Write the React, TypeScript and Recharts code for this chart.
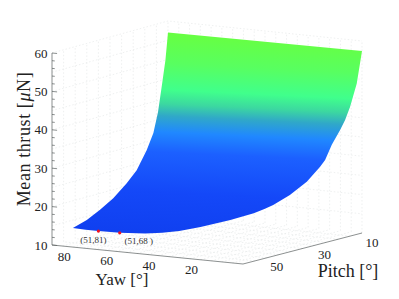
import { Scatter, ScatterChart, XAxis, YAxis } from "recharts"

// surface edges: they follow the outline of the surface
const farEdgeYaw = [0, 45, 90]
const farEdgeThrust = [57.4, 57.2, 57]
const leftEdgePitch = [11.1, 12.6, 14.3, 16.3, 19.2, 23.5, 27.8, 33.6, 39.3, 45]
const leftEdgeThrust = [50, 43.8, 37, 31.9, 27.9, 23.4, 20.7, 17.8, 15.7, 14]
const nearEdgeYaw = [90, 84, 78, 68, 56, 48, 40, 30, 16, 5, 0]
const nearEdgeThrust = [12.9, 12.8, 12.8, 12.9, 13.4, 14, 14.9, 16.5, 19.1, 21.5, 22.9]
const rightEdgePitch = [47.3, 40.3, 33.2, 27.6, 25.5, 22.7, 19.2, 17.1, 15, 12.2]
const rightEdgeThrust = [23.3, 24.8, 27.1, 30.1, 31.5, 35, 38.3, 40.6, 43.7, 49.3]

const markerYaw = [78, 68]
const markerPitch = [51, 51]
const markerThrust = [12.8, 12.9]
const markerLabels = ["(51,81)", "(51,68 )"]
const markerLabelShift = [-5, 19]

const yawTicks = [80, 60, 40, 20]
const pitchTicks = [50, 30, 10]
const thrustTicks = [60, 50, 40, 30, 20, 10]
const thrustMinorTicks = [12, 14, 16, 18, 22, 24, 26, 28, 32, 34, 36, 38, 42, 44, 46, 48, 52, 54, 56, 58]
const yawGrid = [5, 10, 15, 20, 25, 30, 35, 40, 45, 50, 55, 60, 65, 70, 75, 80, 85]
const pitchGrid = [15, 20, 25, 30, 35, 40, 45, 50, 55]
const thrustGrid = [15, 20, 25, 30, 35, 40, 45, 50, 55, 60]

const yawMax = 90
const pitchMin = 10
const pitchMax = 60
const pitchEdge = 51
const thrustMin = 10
const thrustTop = 60

// the box in the picture is nearly orthographic, bilinear between its floor corners is enough
function project(yaw: number, pitch: number, thrust: number) {
	const u = yaw / yawMax
	const v = (pitchMax - pitch) / (pitchMax - pitchMin)
	const x = (1 - u) * (1 - v) * 243 + (1 - u) * v * 362 + u * (1 - v) * 52 + u * v * 168
	const y = (1 - u) * (1 - v) * 264 + (1 - u) * v * 233 + u * (1 - v) * 245 + u * v * 213
	return { x, y: y - 3.84 * (thrust - thrustMin) }
}

const surface = [
	...farEdgeYaw.map((yaw, i) => project(yaw, pitchMin, farEdgeThrust[i])),
	...leftEdgePitch.map((pitch, i) => project(yawMax, pitch, leftEdgeThrust[i])),
	...nearEdgeYaw.map((yaw, i) => project(yaw, pitchEdge, nearEdgeThrust[i])),
	...rightEdgePitch.map((pitch, i) => project(0, pitch, rightEdgeThrust[i])),
]
surface.push(surface[0])

const markers = markerYaw.map((yaw, i) => ({ ...project(yaw, markerPitch[i], markerThrust[i]), label: markerLabels[i], shift: markerLabelShift[i] }))

const gridLines = [
	// left wall and back wall, thrust rows
	...thrustGrid.map((t) => [project(yawMax, pitchMax, t), project(yawMax, pitchMin, t), project(0, pitchMin, t)]),
	// back wall columns
	...yawGrid.map((yaw) => [project(yaw, pitchMin, thrustMin), project(yaw, pitchMin, thrustTop)]),
	[project(0, pitchMin, thrustMin), project(0, pitchMin, thrustTop)],
	// left wall columns
	...pitchGrid.map((p) => [project(yawMax, p, thrustMin), project(yawMax, p, thrustTop)]),
	[project(yawMax, pitchMin, thrustMin), project(yawMax, pitchMin, thrustTop)],
	// floor
	...yawGrid.map((yaw) => [project(yaw, pitchMax, thrustMin), project(yaw, pitchMin, thrustMin)]),
	...pitchGrid.map((p) => [project(0, p, thrustMin), project(yawMax, p, thrustMin)]),
]

const axisLines = [
	[project(yawMax, pitchMax, thrustTop), project(yawMax, pitchMax, thrustMin)],
	[project(yawMax, pitchMax, thrustMin), project(0, pitchMax, thrustMin)],
	[project(0, pitchMax, thrustMin), project(0, pitchMin, thrustMin)],
	...thrustTicks.map((t) => [project(yawMax, pitchMax, t), project(yawMax - 2.4, pitchMax, t)]),
	...thrustMinorTicks.map((t) => [project(yawMax, pitchMax, t), project(yawMax - 1.3, pitchMax, t)]),
]

const tickLabels = [
	...thrustTicks.map((t) => {
		const p = project(yawMax, pitchMax, t)
		return { x: p.x - 11, y: p.y, label: String(t) }
	}),
	...yawTicks.map((yaw) => {
		const p = project(yaw, pitchMax, thrustMin)
		return { x: p.x - 9, y: p.y + 9.5, label: String(yaw) }
	}),
	...pitchTicks.map((pitch) => {
		const p = project(0, pitch, thrustMin)
		return { x: p.x + 10, y: p.y + 9, label: String(pitch) }
	}),
]

const serif = "'Liberation Serif', serif"
const noMark = () => <g />

export default function App() {
	return (
		<div style={{ position: "absolute", left: 0, top: 0 }}>
			<ScatterChart width={399} height={299} margin={{ top: 0, right: 0, bottom: 0, left: 0 }}>
				<defs>
					<linearGradient id="thrustFill" gradientUnits="userSpaceOnUse" x1="200" y1="33" x2="190.5" y2="234">
						<stop offset="0" stopColor="#68ff40" />
						<stop offset="0.16" stopColor="#58ff60" />
						<stop offset="0.29" stopColor="#40ff8c" />
						<stop offset="0.36" stopColor="#3cd8a0" />
						<stop offset="0.42" stopColor="#30a8c8" />
						<stop offset="0.5" stopColor="#2088ff" />
						<stop offset="0.6" stopColor="#1c60ff" />
						<stop offset="0.8" stopColor="#1448f8" />
						<stop offset="1" stopColor="#1040f0" />
					</linearGradient>
				</defs>
				<XAxis type="number" dataKey="x" domain={[0, 399]} hide />
				<YAxis type="number" dataKey="y" domain={[0, 299]} reversed hide />

				{gridLines.map((pts, i) => (
					<Scatter key={`grid-${i}`} data={pts} shape={noMark} isAnimationActive={false}
						line={{ stroke: "#e6e9e9", strokeWidth: 0.7, strokeDasharray: "1.5 2" }} />
				))}
				{axisLines.map((pts, i) => (
					<Scatter key={`axis-${i}`} data={pts} shape={noMark} isAnimationActive={false}
						line={{ stroke: "#5a6060", strokeWidth: 0.7 }} />
				))}

				<Scatter data={surface} shape={noMark} isAnimationActive={false}
					line={{ stroke: "none", fill: "url(#thrustFill)" }} />

				<Scatter data={markers} isAnimationActive={false}
					shape={(p: any) => <circle cx={p.cx} cy={p.cy} r={1.6} fill="#f01020" />} />
				<Scatter data={markers} isAnimationActive={false}
					shape={(p: any) => (
						<text x={p.cx + p.payload.shift} y={p.cy + 9.5} textAnchor="middle" dominantBaseline="middle" fontFamily={serif} fontSize={9} fill="#333">
							{p.payload.label}
						</text>
					)} />

				<Scatter data={tickLabels} isAnimationActive={false}
					shape={(p: any) => (
						<text x={p.cx} y={p.cy} textAnchor="middle" dominantBaseline="central" fontFamily={serif} fontSize={13} fill="#222">
							{p.payload.label}
						</text>
					)} />

				<text x={24} y={139} transform="rotate(-90 24 139)" textAnchor="middle" dominantBaseline="central" fontFamily={serif} fontSize={18} letterSpacing={0.6} fill="#222">
					Mean thrust [<tspan fontStyle="italic">μ</tspan>N]
				</text>
				<text x={122} y={285} textAnchor="middle" fontFamily={serif} fontSize={17} fill="#222">Yaw [°]</text>
				<text x={348} y={277} textAnchor="middle" fontFamily={serif} fontSize={18} fill="#222">Pitch [°]</text>
			</ScatterChart>
		</div>
	)
}
